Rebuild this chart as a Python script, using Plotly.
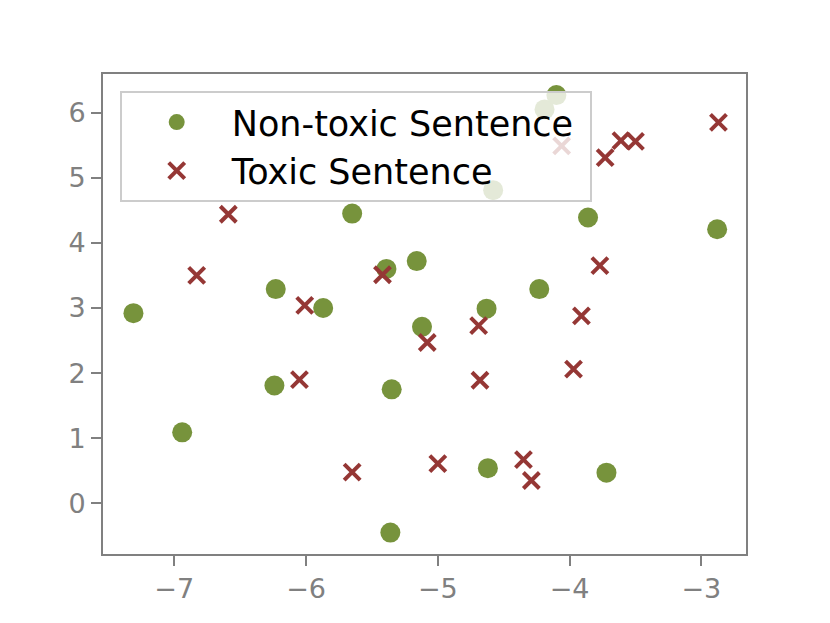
import plotly.graph_objects as go

# Non-toxic sentences (green circles)
nontoxic_x = [-7.31, -6.94, -6.23, -6.24, -5.87, -5.65, -5.39, -5.16, -5.12, -5.35,
              -5.36, -4.63, -4.62, -4.23, -4.58, -4.19, -4.10, -3.86, -3.72, -2.88]
nontoxic_y = [2.92, 1.09, 3.29, 1.81, 3.00, 4.45, 3.60, 3.72, 2.71, 1.75,
              -0.45, 2.99, 0.54, 3.29, 4.81, 6.05, 6.27, 4.39, 0.47, 4.21]

# Toxic sentences (red crosses)
toxic_x = [-6.83, -6.59, -6.01, -6.05, -5.65, -5.42, -5.08, -5.00, -4.69, -4.68,
           -4.35, -4.29, -4.06, -3.97, -3.91, -3.77, -3.73, -3.61, -3.50, -2.87]
toxic_y = [3.50, 4.44, 3.04, 1.90, 0.48, 3.51, 2.47, 0.61, 2.73, 1.89,
           0.67, 0.35, 5.49, 2.06, 2.88, 3.65, 5.31, 5.57, 5.56, 5.85]

x_ticks = [-7, -6, -5, -4, -3]
x_tick_labels = ["\u22127", "\u22126", "\u22125", "\u22124", "\u22123"]
y_ticks = [0, 1, 2, 3, 4, 5, 6]
y_tick_labels = ["0", "1", "2", "3", "4", "5", "6"]

GREEN = "#77933C"
RED = "#953735"
GREY = "#808080"

fig = go.Figure()
fig.add_trace(go.Scatter(
    x=nontoxic_x, y=nontoxic_y, mode="markers", name="Non-toxic Sentence\u00a0",
    marker=dict(symbol="circle", size=20, color=GREEN, line=dict(width=0)),
))
fig.add_trace(go.Scatter(
    x=toxic_x, y=toxic_y, mode="markers", name="Toxic Sentence",
    marker=dict(symbol="x-thin", size=16, color=RED, line=dict(width=4, color=RED)),
))

axis_common = dict(
    showgrid=False, zeroline=False, showline=True, mirror=True,
    linecolor=GREY, linewidth=2, ticks="outside", ticklen=10, tickwidth=2,
    tickcolor=GREY, tickfont=dict(size=27, color=GREY, family="DejaVu Sans"),
)

fig.update_layout(
    width=814, height=607,
    margin=dict(l=95, r=76, t=66, b=61),
    paper_bgcolor="white", plot_bgcolor="white",
    font=dict(family="DejaVu Sans"),
    xaxis=dict(range=[-7.541, -2.661], tickvals=x_ticks, ticktext=x_tick_labels, **axis_common),
    yaxis=dict(range=[-0.779, 6.594], tickvals=y_ticks, ticktext=y_tick_labels, **axis_common),
    legend=dict(
        x=0.026, y=0.965, xanchor="left", yanchor="top",
        bgcolor="rgba(255,255,255,0.8)", bordercolor="#cccccc", borderwidth=2,
        font=dict(size=35, color="black", family="DejaVu Sans"),
        itemwidth=100, tracegroupgap=0,
    ),
)

fig.write_html("out.html")
